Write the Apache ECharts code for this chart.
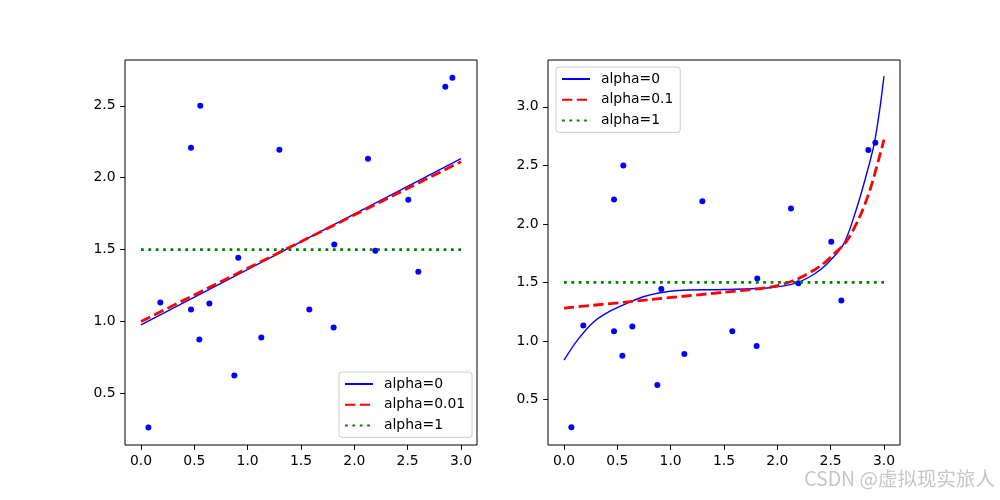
<!DOCTYPE html>
<html>
<head>
<meta charset="utf-8">
<script src="https://cdn.jsdelivr.net/npm/echarts@6/dist/echarts.min.js"></script>
<style>
html, body { margin: 0; padding: 0; background: #fff; }
#main { width: 1000px; height: 500px; }
</style>
</head>
<body>
<div id="main"></div>
<script>
// scatter samples (same points in both panels)
var sampleX = [0.069, 0.181, 0.469, 0.469, 0.556, 0.547, 0.641, 0.875, 0.912, 1.128,
	1.297, 1.578, 1.806, 1.812, 2.128, 2.197, 2.506, 2.600, 2.853, 2.919];
var sampleY = [0.264, 1.132, 2.208, 1.083, 2.500, 0.875, 1.125, 0.625, 1.444, 0.889,
	2.194, 1.083, 0.958, 1.535, 2.132, 1.493, 1.847, 1.347, 2.632, 2.694];

// left panel: linear fits
var leftX = [0, 3];
var leftAlpha0 = [0.977, 2.132];
var leftAlpha001 = [1.000, 2.111];
var leftAlpha1 = [1.5, 1.5];

// right panel: polynomial fits
var rightBlueX = [0, 0.119, 0.275, 0.431, 0.588, 0.744, 0.9, 1.072, 1.5, 1.93, 2.18, 2.34, 2.46, 2.62, 2.74, 2.84, 2.91, 2.96, 3.0];
var rightBlueY = [0.836, 0.999, 1.161, 1.255, 1.321, 1.378, 1.412, 1.432, 1.440, 1.455, 1.497, 1.568, 1.654, 1.825, 2.123, 2.437, 2.693, 2.977, 3.262];
var rightRedX = [0, 0.57, 1.5, 1.93, 2.18, 2.4, 2.525, 2.65, 2.775, 2.87, 2.95, 3.0];
var rightRedY = [1.281, 1.332, 1.417, 1.46, 1.526, 1.639, 1.739, 1.853, 2.066, 2.294, 2.55, 2.72];
var rightGreenX = [0, 3];
var rightGreenY = [1.5, 1.5];

var xTicks = [0, 0.5, 1.0, 1.5, 2.0, 2.5, 3.0];
var leftYTicks = [0.5, 1.0, 1.5, 2.0, 2.5];
var rightYTicks = [0.5, 1.0, 1.5, 2.0, 2.5, 3.0];

function pairs(xs, ys) {
	var out = [];
	for (var i = 0; i < xs.length; i++) out.push([xs[i], ys[i]]);
	return out;
}

var FONT = 'DejaVu Sans';
var fmt = function(v) { return Number(v).toFixed(1); };

function valueAxis(gridIndex, min, max, ticks) {
	return {
		type: 'value',
		gridIndex: gridIndex,
		min: min,
		max: max,
		axisLine: { show: false, onZero: false },
		splitLine: { show: false },
		axisTick: { show: true, length: 4.9, customValues: ticks, lineStyle: { color: '#000', width: 1 } },
		axisLabel: { customValues: ticks, margin: 9.5, color: '#000', fontSize: 13.9, fontFamily: FONT, formatter: fmt }
	};
}

function legendBox(left, top, names) {
	return {
		orient: 'vertical',
		left: left,
		top: top,
		data: names,
		itemWidth: 28,
		itemHeight: 14,
		itemGap: 6.7,
		padding: [5, 7, 5, 5],
		backgroundColor: 'rgba(255,255,255,0.8)',
		borderColor: '#cccccc',
		borderWidth: 1,
		borderRadius: 3,
		selectedMode: false,
		itemStyle: { opacity: 0 },
		textStyle: { color: '#000', fontSize: 13.9, fontFamily: FONT, padding: [0, 0, 0, 6] }
	};
}

var blue = '#0000ff', red = '#ff0000', green = '#008000';
// matplotlib widths in px (1pt = 1.39px at dpi 100)
var thin = 1.39, thick = 2.78;
var dashed = [10.3, 4.45], dotted = [2.78, 4.6];

var myChart = echarts.init(document.getElementById('main'));
var option = {
	animation: false,
	backgroundColor: '#fff',
	grid: [
		{ left: 125, top: 60, width: 352, height: 385, show: true, borderColor: '#000', borderWidth: 1, backgroundColor: 'transparent' },
		{ left: 548, top: 60, width: 352, height: 385, show: true, borderColor: '#000', borderWidth: 1, backgroundColor: 'transparent' }
	],
	xAxis: [
		valueAxis(0, -0.15, 3.15, xTicks),
		valueAxis(1, -0.15, 3.15, xTicks)
	],
	yAxis: [
		valueAxis(0, 0.142, 2.818, leftYTicks),
		valueAxis(1, 0.112, 3.40, rightYTicks)
	],
	legend: [
		legendBox(339, 372, ['alpha=0', 'alpha=0.01', 'alpha=1']),
		legendBox(556, 67, ['alpha=0', 'alpha=0.1', 'alpha=1'])
	],
	graphic: [{
		type: 'text',
		right: 5,
		top: 469,
		style: { text: 'CSDN @虚拟现实旅人', fontSize: 19.5, fontFamily: 'Noto Sans CJK SC', fill: '#c6c6c6' }
	}],
	series: [
		{ name: 'data_l', type: 'scatter', xAxisIndex: 0, yAxisIndex: 0, symbolSize: 6, itemStyle: { color: blue, opacity: 1 }, data: pairs(sampleX, sampleY) },
		{ name: 'alpha=0', type: 'line', xAxisIndex: 0, yAxisIndex: 0, symbol: 'none', lineStyle: { color: blue, width: thin }, itemStyle: { color: blue }, data: pairs(leftX, leftAlpha0) },
		{ name: 'alpha=0.01', type: 'line', xAxisIndex: 0, yAxisIndex: 0, symbol: 'none', lineStyle: { color: red, width: thick, type: dashed }, itemStyle: { color: red }, data: pairs(leftX, leftAlpha001) },
		{ name: 'alpha=1', type: 'line', xAxisIndex: 0, yAxisIndex: 0, symbol: 'none', lineStyle: { color: green, width: thick, type: dotted }, itemStyle: { color: green }, data: pairs(leftX, leftAlpha1) },

		{ name: 'data_r', type: 'scatter', xAxisIndex: 1, yAxisIndex: 1, symbolSize: 6, itemStyle: { color: blue, opacity: 1 }, data: pairs(sampleX, sampleY) },
		{ name: 'alpha=0', type: 'line', xAxisIndex: 1, yAxisIndex: 1, symbol: 'none', smooth: 0.3, lineStyle: { color: blue, width: thin }, itemStyle: { color: blue }, data: pairs(rightBlueX, rightBlueY) },
		{ name: 'alpha=0.1', type: 'line', xAxisIndex: 1, yAxisIndex: 1, symbol: 'none', smooth: 0.3, lineStyle: { color: red, width: thick, type: dashed }, itemStyle: { color: red }, data: pairs(rightRedX, rightRedY) },
		{ name: 'alpha=1', type: 'line', xAxisIndex: 1, yAxisIndex: 1, symbol: 'none', lineStyle: { color: green, width: thick, type: dotted }, itemStyle: { color: green }, data: pairs(rightGreenX, rightGreenY) }
	]
};
myChart.setOption(option);
</script>
</body>
</html>
